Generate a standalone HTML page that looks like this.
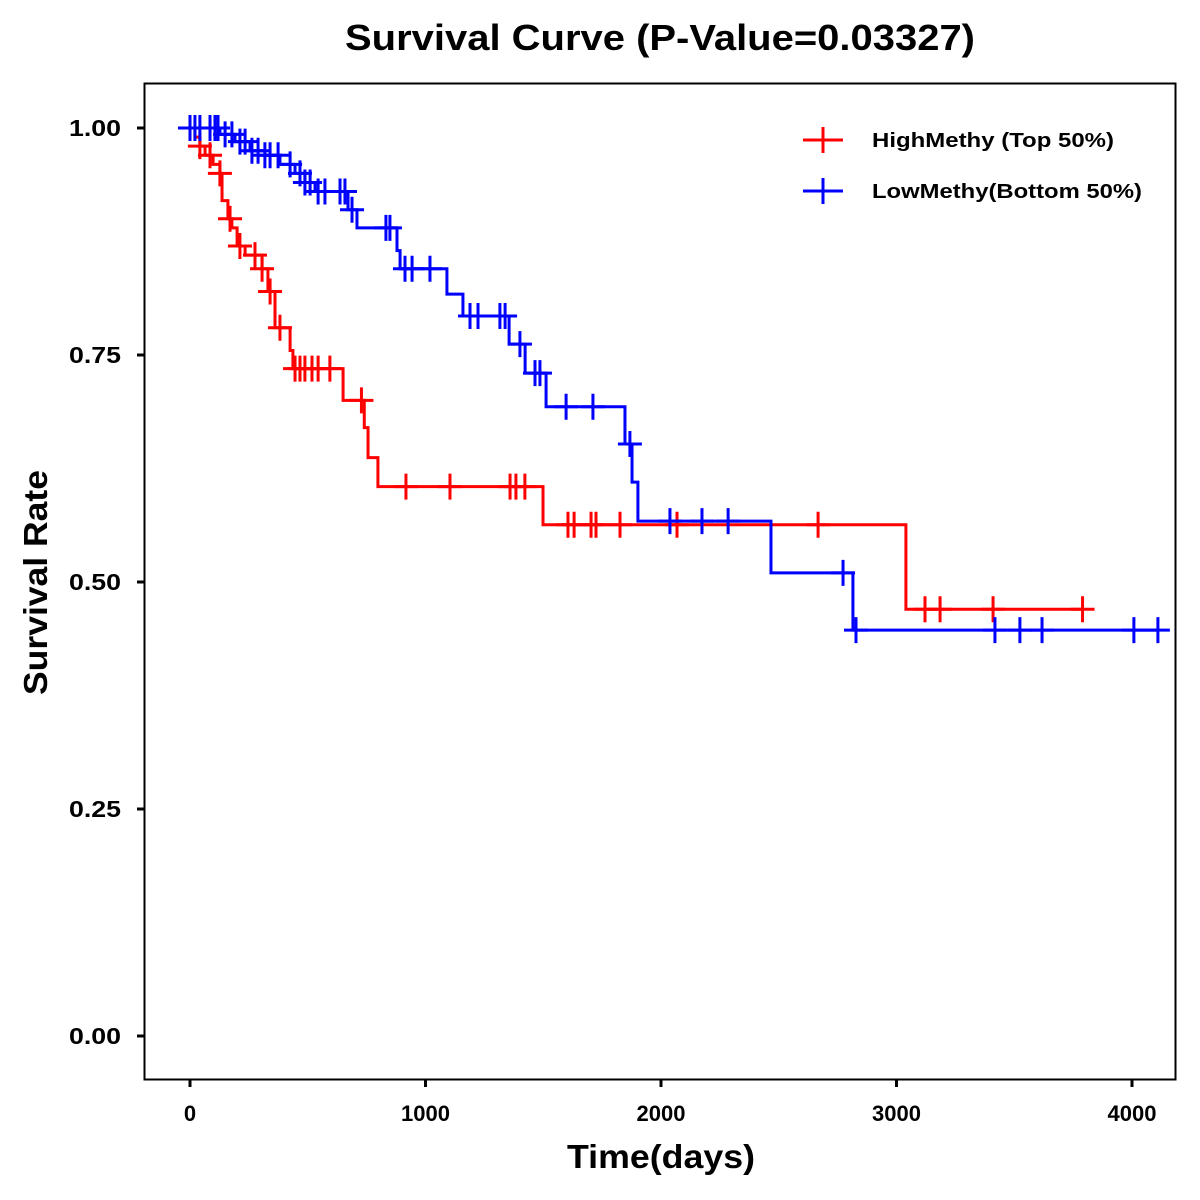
<!DOCTYPE html>
<html><head><meta charset="utf-8"><style>
html,body{margin:0;padding:0;background:#fff;}
svg{display:block;font-family:"Liberation Sans",Arial,sans-serif;}
</style></head><body>
<svg id="chart" width="1200" height="1200" viewBox="0 0 1200 1200" xmlns="http://www.w3.org/2000/svg">
<rect x="0" y="0" width="1200" height="1200" fill="#fff"/>
<text x="345" y="50" font-size="36" font-weight="bold" textLength="630" lengthAdjust="spacingAndGlyphs">Survival Curve (P-Value=0.03327)</text>
<rect x="144.5" y="83.5" width="1031" height="996" fill="none" stroke="#000" stroke-width="2"/>
<g id="axes"></g>
<g id="series"></g>
<text x="567" y="1168" font-size="33" font-weight="bold" textLength="188" lengthAdjust="spacingAndGlyphs">Time(days)</text>
<text transform="translate(47,695) rotate(-90)" font-size="33" font-weight="bold" textLength="225" lengthAdjust="spacingAndGlyphs">Survival Rate</text>
<g>
  <g>
    <line x1="803" y1="140" x2="843" y2="140" stroke="#ff0000" stroke-width="3"/>
    <line x1="823" y1="127" x2="823" y2="153" stroke="#ff0000" stroke-width="3"/>
    <text x="872" y="147" font-size="20" font-weight="bold" textLength="242" lengthAdjust="spacingAndGlyphs">HighMethy (Top 50%)</text>
  </g>
  <g>
    <line x1="803" y1="191" x2="843" y2="191" stroke="#0000ff" stroke-width="3"/>
    <line x1="823" y1="178" x2="823" y2="204" stroke="#0000ff" stroke-width="3"/>
    <text x="872" y="198" font-size="20" font-weight="bold" textLength="270" lengthAdjust="spacingAndGlyphs">LowMethy(Bottom 50%)</text>
  </g>
</g>
</svg>
<script>
const xTicks = [0, 1000, 2000, 3000, 4000];
const yTicks = [0, 0.25, 0.5, 0.75, 1.0];
const yTickLabels = ["0.00", "0.25", "0.50", "0.75", "1.00"];

const highTimes = [0, 21, 42, 64, 98, 127, 136, 161, 178, 200, 234, 306, 331, 361, 425, 437, 650, 740, 756, 798, 1499, 3040];
const highSurv  = [1.0, 0.99, 0.98, 0.97, 0.96, 0.95, 0.92, 0.90, 0.89, 0.87, 0.86, 0.845, 0.82, 0.78, 0.755, 0.735, 0.70, 0.67, 0.637, 0.605, 0.563, 0.47];
const highEnd = 3790;
const highCensor = [42, 85, 127, 170, 212, 276, 306, 340, 382, 446, 467, 488, 518, 544, 594, 728, 917, 1104, 1359, 1384, 1422, 1605, 1631, 1703, 1724, 1826, 2068, 2667, 3121, 3185, 3410, 3790];

const lowTimes = [0, 127, 191, 255, 318, 382, 446, 488, 531, 671, 709, 879, 892, 1091, 1159, 1355, 1423, 1512, 1847, 1877, 1902, 2467, 2815];
const lowSurv  = [1.0, 0.993, 0.985, 0.975, 0.97, 0.96, 0.95, 0.94, 0.93, 0.91, 0.89, 0.865, 0.845, 0.817, 0.793, 0.762, 0.73, 0.693, 0.652, 0.61, 0.567, 0.51, 0.447];
const lowEnd = 4110;
const lowCensor = [0, 21, 42, 85, 106, 119, 149, 178, 212, 234, 263, 289, 318, 340, 374, 425, 467, 488, 510, 544, 573, 637, 658, 688, 832, 849, 913, 943, 1019, 1189, 1223, 1316, 1338, 1401, 1465, 1486, 1597, 1711, 1868, 2038, 2174, 2285, 2773, 2828, 3418, 3524, 3618, 4008, 4110];

const NS = "http://www.w3.org/2000/svg";
const xS = t => 190 + t * 0.2355;
const yS = s => 1036 - s * 908;

const axes = document.getElementById('axes');
xTicks.forEach(t => {
  const l = document.createElementNS(NS, 'line');
  l.setAttribute('x1', xS(t)); l.setAttribute('x2', xS(t));
  l.setAttribute('y1', 1080); l.setAttribute('y2', 1087);
  l.setAttribute('stroke', '#000'); l.setAttribute('stroke-width', 3);
  
  
  axes.appendChild(l);
  const tx = document.createElementNS(NS, 'text');
  tx.setAttribute('x', xS(t)); tx.setAttribute('y', 1121);
  tx.setAttribute('text-anchor', 'middle'); tx.setAttribute('font-size', 22); tx.setAttribute('font-weight', 'bold');
  tx.textContent = String(t);
  
  
  axes.appendChild(tx);
});
yTicks.forEach((v, i) => {
  const l = document.createElementNS(NS, 'line');
  l.setAttribute('x1', 137); l.setAttribute('x2', 144);
  l.setAttribute('y1', yS(v)); l.setAttribute('y2', yS(v));
  l.setAttribute('stroke', '#000'); l.setAttribute('stroke-width', 3);
  
  
  axes.appendChild(l);
  const tx = document.createElementNS(NS, 'text');
  tx.setAttribute('x', 69); tx.setAttribute('y', yS(v) + 8);
  tx.setAttribute('font-size', 23); tx.setAttribute('font-weight', 'bold');
  tx.setAttribute('textLength', 52); tx.setAttribute('lengthAdjust', 'spacingAndGlyphs');
  tx.textContent = yTickLabels[i];
  
  
  axes.appendChild(tx);
});

const series = document.getElementById('series');
function survAt(times, surv, t) {
  let s = surv[0];
  for (let i = 0; i < times.length; i++) if (times[i] <= t) s = surv[i];
  return s;
}
function drawSeries(name, color, times, surv, end, censor) {
  const g = document.createElementNS(NS, 'g');
  
  
  let d = 'M' + xS(times[0]) + ',' + yS(surv[0]);
  for (let i = 1; i < times.length; i++) {
    d += ' H' + xS(times[i]) + ' V' + yS(surv[i]);
  }
  d += ' H' + xS(end);
  const p = document.createElementNS(NS, 'path');
  p.setAttribute('d', d);
  p.setAttribute('fill', 'none'); p.setAttribute('stroke', color); p.setAttribute('stroke-width', 3);
  
  
  g.appendChild(p);
  censor.forEach(t => {
    const x = xS(t), y = yS(survAt(times, surv, t));
    const c = document.createElementNS(NS, 'path');
    c.setAttribute('d', 'M' + (x - 12) + ',' + y + ' H' + (x + 12) + ' M' + x + ',' + (y - 13) + ' V' + (y + 13));
    c.setAttribute('stroke', color); c.setAttribute('stroke-width', 3); c.setAttribute('fill', 'none');
    
    
    g.appendChild(c);
  });
  series.appendChild(g);
}
drawSeries('high-methy-curve', '#ff0000', highTimes, highSurv, highEnd, highCensor);
drawSeries('low-methy-curve', '#0000ff', lowTimes, lowSurv, lowEnd, lowCensor);
</script>
</body></html>
